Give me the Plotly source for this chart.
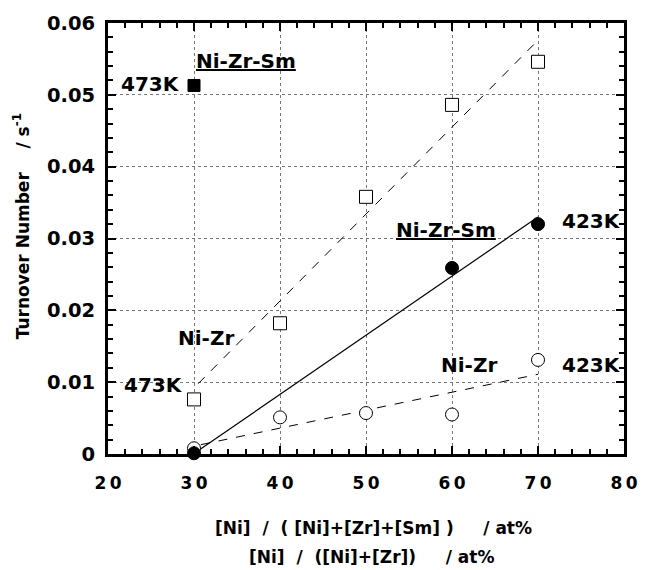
import plotly.graph_objects as go

# Data
ni_zr_473_x = [30, 40, 50, 60, 70]
ni_zr_473_y = [0.0076, 0.0182, 0.0358, 0.0486, 0.0546]

ni_zr_sm_473_x = [30]
ni_zr_sm_473_y = [0.0513]

ni_zr_sm_423_x = [30, 60, 70]
ni_zr_sm_423_y = [0.0001, 0.0259, 0.0320]

ni_zr_423_x = [30, 40, 50, 60, 70]
ni_zr_423_y = [0.0008, 0.0051, 0.0057, 0.0055, 0.0131]

# fitted lines (endpoints)
fit_473_x = [30.5, 70]
fit_473_y = [0.0098, 0.0576]
fit_sm423_x = [30.3, 70]
fit_sm423_y = [0.0003, 0.0330]
fit_423_x = [30.8, 70]
fit_423_y = [0.0013, 0.0111]

x_ticks = [20, 30, 40, 50, 60, 70, 80]
x_tick_text = ["2\u20090", "3\u20090", "4\u20090", "5\u20090", "6\u20090", "7\u20090", "8\u20090"]
y_ticks = [0, 0.01, 0.02, 0.03, 0.04, 0.05, 0.06]
y_tick_text = ["0", "0.01", "0.02", "0.03", "0.04", "0.05", "0.06"]

FONT = "DejaVu Sans, Verdana, sans-serif"

fig = go.Figure()

# lines
fig.add_trace(go.Scatter(x=fit_473_x, y=fit_473_y, mode="lines",
                         line=dict(color="black", width=1, dash="dash")))
fig.add_trace(go.Scatter(x=fit_sm423_x, y=fit_sm423_y, mode="lines",
                         line=dict(color="black", width=1.2)))
fig.add_trace(go.Scatter(x=fit_423_x, y=fit_423_y, mode="lines",
                         line=dict(color="black", width=1, dash="dash")))

# markers
fig.add_trace(go.Scatter(x=ni_zr_473_x, y=ni_zr_473_y, mode="markers",
                         marker=dict(symbol="square", size=13, color="white",
                                     line=dict(color="black", width=1))))
fig.add_trace(go.Scatter(x=ni_zr_sm_473_x, y=ni_zr_sm_473_y, mode="markers",
                         marker=dict(symbol="square", size=12, color="black",
                                     line=dict(color="black", width=1))))
fig.add_trace(go.Scatter(x=ni_zr_423_x, y=ni_zr_423_y, mode="markers",
                         marker=dict(symbol="circle", size=13, color="white",
                                     line=dict(color="black", width=1))))
fig.add_trace(go.Scatter(x=ni_zr_sm_423_x, y=ni_zr_sm_423_y, mode="markers",
                         marker=dict(symbol="circle", size=13, color="black",
                                     line=dict(color="black", width=1)),
                         cliponaxis=False))

ann_font = dict(family=FONT, size=20, color="black")

annotations = [
    dict(x=36.1, y=0.0547, text="<b><u>Ni-Zr-Sm</u></b>", xanchor="center", yanchor="middle"),
    dict(x=28.6, y=0.0515, text="<b>473K</b>", xanchor="right", yanchor="middle"),
    dict(x=59.3, y=0.0312, text="<b><u>Ni-Zr-Sm</u></b>", xanchor="center", yanchor="middle"),
    dict(x=72.5, y=0.0324, text="<b>423K</b>", xanchor="left", yanchor="middle"),
    dict(x=31.35, y=0.0161, text="<b>Ni-Zr</b>", xanchor="center", yanchor="middle"),
    dict(x=25.3, y=0.0096, text="<b>473K</b>", xanchor="center", yanchor="middle"),
    dict(x=62.0, y=0.0124, text="<b>Ni-Zr</b>", xanchor="center", yanchor="middle"),
    dict(x=72.5, y=0.0124, text="<b>423K</b>", xanchor="left", yanchor="middle"),
]
for a in annotations:
    a.update(xref="x", yref="y", showarrow=False, font=ann_font)

title_font = dict(family=FONT, size=17, color="black")
# axis titles as annotations
annotations += [
    dict(xref="paper", yref="paper", x=0.515, y=-0.171, xanchor="center", yanchor="middle",
         text="<b>[Ni]  /  ( [Ni]+[Zr]+[Sm] )     / at%</b>", showarrow=False, font=title_font),
    dict(xref="paper", yref="paper", x=0.51, y=-0.238, xanchor="center", yanchor="middle",
         text="<b>[Ni]  /  ([Ni]+[Zr])     / at%</b>", showarrow=False, font=title_font),
    dict(xref="paper", yref="paper", x=-0.167, y=0.528, xanchor="center", yanchor="middle",
         text="<b>Turnover Number    / s<sup>-1</sup></b>", textangle=-90, showarrow=False,
         font=title_font),
]

fig.update_layout(
    width=650, height=570,
    margin=dict(l=108, r=20, t=22, b=116),
    plot_bgcolor="white", paper_bgcolor="white",
    showlegend=False,
    annotations=annotations,
    xaxis=dict(range=[20, 80], tickvals=x_ticks, ticktext=["<b>%s</b>" % t for t in x_tick_text],
               ticks="inside", ticklen=8, tickwidth=1.5,
               tickcolor="black", showline=True, linewidth=3, linecolor="black", mirror="ticks",
               showgrid=True, gridcolor="#777", griddash="dot", gridwidth=1,
               zeroline=False, ticklabelstandoff=12,
               tickfont=dict(family=FONT, size=17, color="black", weight="bold"),
               minor=dict(dtick=2, ticks="inside", ticklen=5, tickcolor="black", showgrid=False)),
    yaxis=dict(range=[0, 0.06], tickvals=y_ticks, ticktext=["<b>%s</b>" % t for t in y_tick_text],
               ticks="inside", ticklen=8, tickwidth=1.5, tickcolor="black", showline=True,
               linewidth=3, linecolor="black", mirror="ticks",
               showgrid=True, gridcolor="#777", griddash="dot", gridwidth=1,
               zeroline=False, ticklabelstandoff=6,
               tickfont=dict(family=FONT, size=19.5, color="black", weight="bold"),
               minor=dict(dtick=0.002, ticks="inside", ticklen=5, tickcolor="black", showgrid=False)),
)

fig.write_html("out.html")
